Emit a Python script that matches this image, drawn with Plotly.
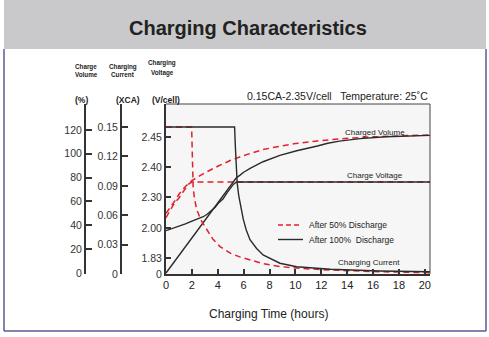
import plotly.graph_objects as go
import numpy as np

# ---------------- data ----------------
# Charged volume (%) vs hours
vol50_h = [0, 0.25, 0.5, 0.75, 1, 1.25, 1.5, 2, 2.5, 3, 4, 5, 6, 7.5, 8.75, 10, 11.7, 13.4, 16, 18, 20.4]
vol50_v = [50, 53.5, 57, 61.5, 66, 69.5, 72.5, 77.5, 81, 84, 89.5, 94.5, 98.5, 103.5, 106.2, 108.5, 110.7, 112.5, 114.2, 115, 115.8]
vol100_h = [0, 5.45, 5.7, 6.0, 6.5, 7.5, 8.8, 9.4, 10.1, 11.7, 12.5, 13.4, 14.2, 15, 17, 19, 20.4]
vol100_v = [0, 80, 81.9, 84.5, 87.8, 93.3, 98.6, 100.5, 102.5, 106.5, 108.8, 110.6, 111.8, 112.7, 114.2, 115, 115.4]

# Charge voltage (V/cell) vs hours
volt50_h = [0, 0.25, 0.5, 0.75, 1, 1.25, 1.5, 1.75, 2, 20.4]
volt50_v = [2.10, 2.16, 2.21, 2.255, 2.29, 2.313, 2.33, 2.343, 2.35, 2.35]
volt100_h = [0, 0.5, 1.03, 1.5, 2.1, 2.5, 2.88, 3.2, 3.5, 3.8, 4.04, 4.4, 4.7, 5.0, 5.2, 5.45, 20.4]
volt100_v = [1.985, 1.998, 2.013, 2.04, 2.071, 2.09, 2.109, 2.135, 2.165, 2.20, 2.239, 2.28, 2.313, 2.333, 2.342, 2.35, 2.35]

# Charging current (xCA) vs hours
cur50_h = [0, 1.98, 2.0, 2.04, 2.1, 2.2, 2.37, 2.7, 3.14, 3.6, 4.17, 5.0, 5.7, 6.49, 7.5, 8.8, 10.5, 12.66, 16, 20.4]
cur50_v = [0.15, 0.15, 0.14, 0.11, 0.088, 0.077, 0.066, 0.055, 0.045, 0.036, 0.028, 0.021, 0.0175, 0.0143, 0.0105, 0.0076, 0.0056, 0.0041, 0.0025, 0.0013]
cur100_h = [0, 5.3, 5.36, 5.42, 5.5, 5.62, 5.8, 5.97, 6.2, 6.49, 7.0, 7.5, 8.8, 10.1, 12.7, 16.5, 20.4]
cur100_v = [0.15, 0.15, 0.13, 0.11, 0.093, 0.08, 0.067, 0.056, 0.045, 0.035, 0.026, 0.0194, 0.011, 0.0074, 0.0048, 0.0031, 0.0023]

# axis ticks
x_ticks = [0, 2, 4, 6, 8, 10, 12, 14, 16, 18, 20]
vol_ticks = [0, 20, 40, 60, 80, 100, 120]
cur_ticks = [0, 0.03, 0.06, 0.09, 0.12, 0.15]
cur_labels = ["0", "0.03", "0.06", "0.09", "0.12", "0.15"]
volt_ticks = [0, 1.83, 2.00, 2.30, 2.40, 2.45]
volt_labels = ["0", "1.83", "2.00", "2.30", "2.40", "2.45"]
# the voltage axis is non-linear: scale positions of its ticks
volt_scale = [0, 16, 46, 77, 107, 137]


def vmap(v):
    return np.interp(v, volt_ticks, volt_scale)


RED = "#e3202b"
BLK = "#2b2b2b"
FONT = "Arial, Liberation Sans, sans-serif"
DASH = "6px,4px"

fig = go.Figure()

# voltage (primary y)
fig.add_trace(go.Scatter(x=volt50_h, y=vmap(volt50_v), mode="lines",
                         line=dict(color=RED, width=1.5, dash=DASH), showlegend=False, yaxis="y"))
fig.add_trace(go.Scatter(x=volt100_h, y=vmap(volt100_v), mode="lines",
                         line=dict(color=BLK, width=1.4), showlegend=False, yaxis="y"))
# volume (y2)
fig.add_trace(go.Scatter(x=vol50_h, y=vol50_v, mode="lines",
                         line=dict(color=RED, width=1.5, dash=DASH), showlegend=False, yaxis="y2"))
fig.add_trace(go.Scatter(x=vol100_h, y=vol100_v, mode="lines",
                         line=dict(color=BLK, width=1.4), showlegend=False, yaxis="y2"))
# current (y3)
fig.add_trace(go.Scatter(x=cur50_h, y=cur50_v, mode="lines",
                         line=dict(color=RED, width=1.5, dash=DASH), showlegend=False, yaxis="y3"))
fig.add_trace(go.Scatter(x=cur100_h, y=cur100_v, mode="lines",
                         line=dict(color=BLK, width=1.4), showlegend=False, yaxis="y3"))

L, R, T, B = 40, 59, 104, 63
W, H = 489, 337
PW, PH = W - L - R, H - T - B


def px(x):
    return (x - L) / PW


def py(y):
    return (T + PH - y) / PH


xdom0 = px(166)

axis_common = dict(showgrid=False, zeroline=False, showline=True, linecolor="#333",
                   tickcolor="#333", tickfont=dict(size=10.5, color="#333", family=FONT))

fig.update_layout(
    width=W, height=H, margin=dict(l=L, r=R, t=T, b=B),
    paper_bgcolor="white", plot_bgcolor="#f6f6f6",
    font=dict(family=FONT, color="#222"),
    showlegend=False,
    xaxis=dict(domain=[xdom0, 1], range=[0, 20.4], tickvals=x_ticks, ticks="inside",
               ticklen=5, tickwidth=1.5, linewidth=2, showgrid=False, zeroline=False, showline=True,
               linecolor="#333", tickcolor="#333",
               tickfont=dict(size=11, color="#222", family=FONT)),
    yaxis=dict(range=[0, 170], tickvals=volt_scale, ticktext=volt_labels, ticks="inside",
               ticklen=5, tickwidth=1.5, linewidth=2, **axis_common),
    yaxis2=dict(overlaying="y", anchor="free", position=px(85), side="left",
                range=[-0.83, 141.7], tickvals=vol_ticks, ticks="inside", ticklen=6,
                tickwidth=1.5, linewidth=2, **axis_common),
    yaxis3=dict(overlaying="y", anchor="free", position=px(121), side="left",
                range=[0, 0.1735], tickvals=cur_ticks, ticktext=cur_labels, ticks="inside",
                ticklen=6, tickwidth=1.5, linewidth=2, **axis_common),
)

shapes = []
# header band
shapes.append(dict(type="rect", xref="paper", yref="paper", x0=px(4), x1=px(486), y0=py(49), y1=py(0),
                   fillcolor="#c9c9cb", line=dict(width=0), layer="below"))
# outer border
BC = "#5a5a96"
shapes.append(dict(type="line", xref="paper", yref="paper", x0=px(4), x1=px(4), y0=py(49), y1=py(331),
                   line=dict(color=BC, width=1.5)))
shapes.append(dict(type="line", xref="paper", yref="paper", x0=px(486), x1=px(486), y0=py(49), y1=py(331),
                   line=dict(color=BC, width=1.5)))
shapes.append(dict(type="line", xref="paper", yref="paper", x0=px(4), x1=px(486), y0=py(331), y1=py(331),
                   line=dict(color=BC, width=1.5)))
# plot frame top & right
shapes.append(dict(type="line", xref="x domain", yref="y domain", x0=0, x1=1, y0=1, y1=1,
                   line=dict(color="#444", width=1)))
shapes.append(dict(type="line", xref="x domain", yref="y domain", x0=1, x1=1, y0=0, y1=1,
                   line=dict(color="#444", width=1)))
# legend samples
shapes.append(dict(type="line", xref="paper", yref="paper", x0=px(278), x1=px(302), y0=py(225), y1=py(225),
                   line=dict(color=RED, width=1.5, dash="5px,3px")))
shapes.append(dict(type="line", xref="paper", yref="paper", x0=px(278), x1=px(303), y0=py(239.5), y1=py(239.5),
                   line=dict(color=BLK, width=1.4)))

ann = []


def text(t, x, y, size, bold=False, anchor="center", color="#222"):
    ann.append(dict(text=("<b>%s</b>" % t) if bold else t, xref="paper", yref="paper",
                    x=px(x), y=py(y), xanchor=anchor, yanchor="middle", showarrow=False,
                    font=dict(size=size, color=color, family=FONT)))


text("Charging Characteristics", 248, 28, 20, bold=True)
text("0.15CA-2.35V/cell   Temperature: 25˚C", 430, 96, 10.5, anchor="right")
text("Charged Volume", 375, 132, 8)
text("Charge Voltage", 375, 175.5, 8)
text("Charging Current", 369, 262.5, 8)
text("After 50% Discharge", 307, 225, 8.5, anchor="left")
text("After 100%  Discharge", 307, 239.5, 8.5, anchor="left")
text("Charging Time (hours)", 268, 314, 12)
# axis headers
text("Charge", 86, 67, 6.3, bold=True)
text("Volume", 86, 75, 6.3, bold=True)
text("Charging", 122.5, 67, 6.3, bold=True)
text("Current", 122.5, 75, 6.3, bold=True)
text("Charging", 162, 63.5, 6.3, bold=True)
text("Voltage", 162, 72.5, 6.3, bold=True)
text("(%)", 81, 99.5, 8.5, bold=True)
text("(XCA)", 127.5, 99.5, 8.5, bold=True)
text("(V/cell)", 166, 99.5, 8.5, bold=True)

fig.update_layout(shapes=shapes, annotations=ann)
fig.write_html("out.html")
